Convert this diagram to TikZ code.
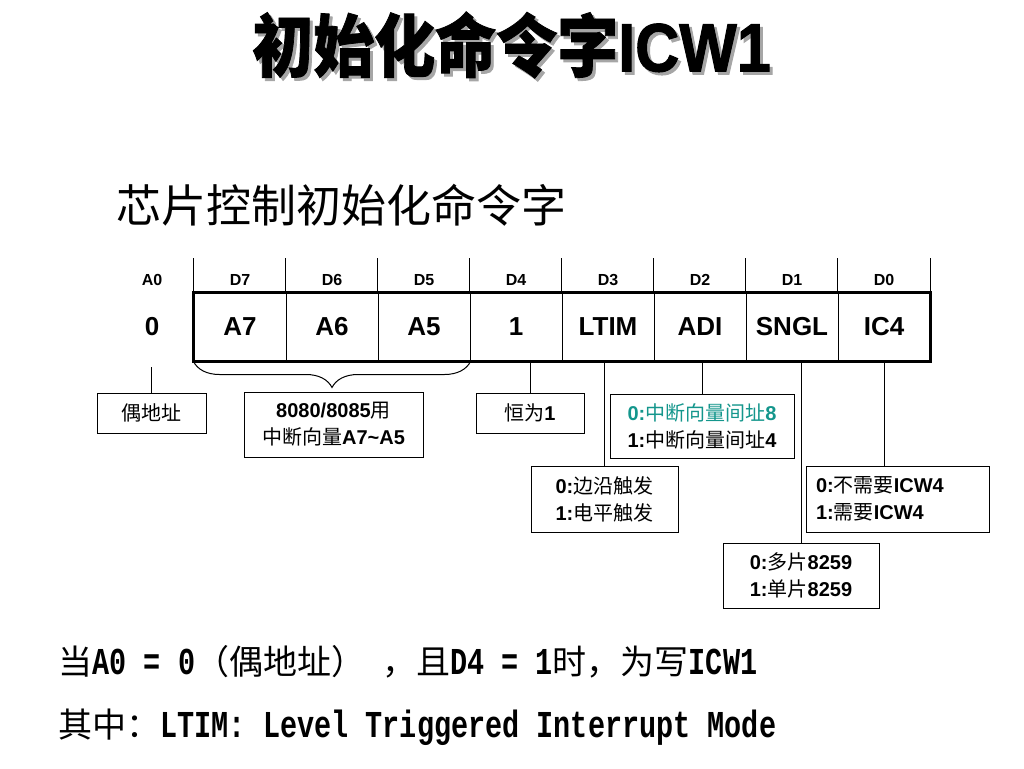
\documentclass[tikz,border=0pt]{standalone}
\usepackage{fontspec}
\setmainfont{Liberation Sans}
\newfontfamily\cjk{Noto Sans CJK SC}
\newfontfamily\heavy[BoldFeatures={FakeBold=1.6}]{Liberation Sans}
\newfontfamily\cjkheavy[BoldFeatures={FakeBold=1.2}]{Noto Sans CJK SC}
\newfontfamily\monof[FakeStretch=0.75]{Liberation Mono}
\usetikzlibrary{positioning,decorations.pathreplacing}

\definecolor{adicol}{RGB}{20,150,140}
\newcommand\zh[1]{{\cjk\mdseries #1}}
\newcommand\bzh[1]{{\cjk\mdseries\fontsize{34pt}{40pt}\selectfont #1}}
\newcommand\titletext{{\cjkheavy\bfseries 初始化命令字}{\heavy\bfseries ICW1}}

\begin{document}
\begin{tikzpicture}[
            x = 1pt, y = 1pt, % one unit is one pixel
            node distance = 92pt, % width of one bit cell
            line width = 1pt
        ]

        \tikzstyle{cell}=[
            draw = black,
            minimum width = 92pt,
            minimum height = 68pt,
            inner sep = 0pt,
            font = \fontsize{26pt}{30pt}\selectfont\bfseries
        ]
        \tikzstyle{hdr}=[
            font = \fontsize{16pt}{18pt}\selectfont\bfseries
        ]
        \tikzstyle{lbl}=[
            draw = black,
            align = center,
            inner sep = 2pt,
            font = \fontsize{20pt}{27pt}\selectfont\bfseries
        ]
        \tikzstyle{every edge}=[draw = black, line width = 1pt]

        \useasboundingbox (0,0) rectangle (1024,-768);

        % title
        \node (tshadow) [text = black!35, font = \fontsize{61pt}{64pt}\selectfont] at (514.5,-48) {\scalebox{1}[1.12]{\titletext}};
        \node (title) [font = \fontsize{61pt}{64pt}\selectfont] at (511.5,-45) {\scalebox{1}[1.12]{\titletext}};
        \node (sub) [font = \cjk\fontsize{45pt}{48pt}\selectfont] at (341.5,-205) {芯片控制初始化命令字};

        % bit cells
        \node (d7) [cell] at (240,-327) {A7};
        \node (d6) [cell, right of=d7] {A6};
        \node (d5) [cell, right of=d6] {A5};
        \node (d4) [cell, right of=d5] {1};
        \node (d3) [cell, right of=d4] {LTIM};
        \node (d2) [cell, right of=d3] {ADI};
        \node (d1) [cell, right of=d2] {SNGL};
        \node (d0) [cell, right of=d1] {IC4};
        \draw[line width = 3pt] (d7.north west) rectangle (d0.south east);
        \node (zero) [font = \fontsize{26pt}{30pt}\selectfont\bfseries] at (152,-327) {0};

        % bit headers
        \node (ha0) [hdr] at (152,-280) {A0};
        \foreach \i in {7,6,5,4,3,2,1,0} {
            \node (h\i) [hdr, above of=d\i, node distance=47pt] {D\i};
            \path (d\i.north west) edge ([yshift=35pt]d\i.north west);
        }
        \path (d0.north east) edge ([yshift=35pt]d0.north east);

        % brace over A7~A5
        \draw[decorate, decoration = {brace, amplitude = 26pt}] (d5.south east) -- (d7.south west);

        % notes
        \node (evenbox) [lbl, minimum width = 109pt, minimum height = 40pt] at (151.5,-413) {\zh{偶地址}};
        \node (vecbox) [lbl, minimum width = 179pt, minimum height = 65pt] at (333.5,-424.5) {8080/8085\zh{用}\\\zh{中断向量}A7\textasciitilde A5};
        \node (onebox) [lbl, minimum width = 108pt, minimum height = 40pt] at (530,-413) {\zh{恒为}1};
        \node (ltimbox) [lbl, minimum width = 147pt, minimum height = 66pt] at (604.5,-499) {0:\zh{边沿触发}\\1:\zh{电平触发}};
        \node (adibox) [lbl, minimum width = 184pt, minimum height = 64pt] at (702,-426) {\textcolor{adicol}{0:\zh{中断向量间址}8}\\1:\zh{中断向量间址}4};
        \node (snglbox) [lbl, minimum width = 156pt, minimum height = 65pt] at (801,-575.5) {0:\zh{多片}8259\\1:\zh{单片}8259};
        \node (ic4box) [lbl, align = left, text width = 163pt, inner xsep = 10pt, minimum width = 183pt, minimum height = 66pt] at (897.5,-499) {0:\zh{不需要}ICW4\\1:\zh{需要}ICW4};

        \coordinate (a0foot) at (151.5,-367);
        \path (evenbox.north) edge (a0foot);
        \path (onebox.north) edge (onebox.north |- d4.south);
        \path (ltimbox.north) edge (ltimbox.north |- d3.south);
        \path (adibox.north) edge (adibox.north |- d2.south);
        \path (snglbox.north) edge (snglbox.north |- d1.south);
        \path (d0.south) edge (d0.south |- ic4box.north);

        % remarks
        \node (rem1) [anchor = west, inner sep = 0pt, font = \monof\bfseries\fontsize{38pt}{40pt}\selectfont] at (58,-662) {\bzh{当}A0 = 0\bzh{（偶地址）} \bzh{，且}D4 = 1\bzh{时，为写}ICW1};
        \node (rem2) [anchor = west, inner sep = 0pt, font = \monof\bfseries\fontsize{38pt}{40pt}\selectfont] at (58,-727) {\bzh{其中：}LTIM: Level Triggered Interrupt Mode};
    \end{tikzpicture}
\end{document}
